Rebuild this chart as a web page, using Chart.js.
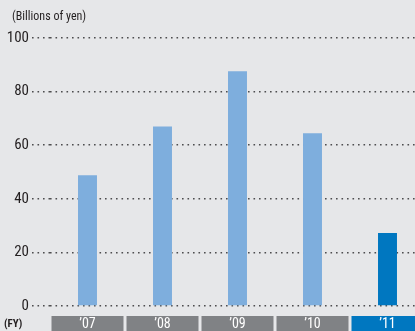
<!DOCTYPE html>
<html>
<head>
<meta charset="utf-8">
<script src="https://cdn.jsdelivr.net/npm/chart.js@4/dist/chart.umd.min.js"></script>
<style>
  html, body { margin: 0; padding: 0; background: #e6e7e9; overflow: hidden; }
  #wrap { position: relative; width: 425px; height: 331px; }
</style>
</head>
<body>
<div id="wrap"><canvas id="c" width="425" height="331"></canvas></div>
<script>
  // Werte (Milliarden Yen)
  const years = ['\u201907', '\u201908', '\u201909', '\u201910', '\u201911'];
  const values = [48.8, 67.0, 87.6, 64.5, 27.2];
  const barColors = ['#7eaedd', '#7eaedd', '#7eaedd', '#7eaedd', '#0077c0'];
  const boxColors = ['#808285', '#808285', '#808285', '#808285', '#0077c0'];
  const yTicks = [0, 20, 40, 60, 80, 100];
  const unitLabel = '(Billions of yen)';
  const fyLabel = '(FY)';

  const FONT = '"Liberation Sans Narrow", "Roboto Condensed", Roboto, sans-serif';

  // Jahreskästen unter der Achse + Einheit oben links
  const decor = {
    id: 'decor',
    afterDraw(chart) {
      const ctx = chart.ctx;
      const x = chart.scales.x;
      const area = chart.chartArea;
      const half = (x.getPixelForValue(1) - x.getPixelForValue(0)) / 2;
      ctx.save();
      years.forEach((y, i) => {
        const cx = x.getPixelForValue(i);
        ctx.fillStyle = boxColors[i];
        ctx.fillRect(cx - half + 1.5, area.bottom + 10, half * 2 - 3, 20);
        ctx.fillStyle = '#ffffff';
        ctx.font = '14px ' + FONT;
        ctx.textAlign = 'center';
        ctx.textBaseline = 'middle';
        ctx.fillText(y, cx, area.bottom + 18);
      });
      ctx.fillStyle = '#231f20';
      ctx.font = 'bold 11px ' + FONT;
      ctx.textAlign = 'left';
      ctx.fillText(fyLabel, 4, area.bottom + 18);
      ctx.font = '12px ' + FONT;
      ctx.textBaseline = 'middle';
      ctx.fillText(unitLabel, 12, 17);
      ctx.restore();
    },
  };

  new Chart(document.getElementById('c'), {
    type: 'bar',
    data: {
      labels: years,
      datasets: [{
        data: values,
        backgroundColor: barColors,
        borderWidth: 0,
        barPercentage: 0.253,
        categoryPercentage: 1,
      }],
    },
    options: {
      responsive: false,
      animation: false,
      layout: { padding: { top: 38, right: 0, bottom: 0, left: 0 } },
      plugins: { legend: { display: false }, tooltip: { enabled: false } },
      scales: {
        x: {
          grid: { display: false },
          border: { display: false },
          ticks: { display: false },
          afterFit: (s) => { s.height = 25; },
        },
        y: {
          min: 0,
          max: 100,
          afterBuildTicks: (s) => { s.ticks = yTicks.map((v) => ({ value: v })); },
          afterFit: (s) => { s.width = 50; },
          border: { display: false, dash: [1.6, 3.9] },
          grid: {
            color: '#4d4d4f',
            lineWidth: 1.6,
            drawTicks: true,
            tickLength: 18,
            tickColor: '#4d4d4f',
            tickWidth: 1.6,
            tickBorderDash: [1.6, 3.9],
          },
          ticks: {
            color: '#231f20',
            font: { family: FONT, size: 15 },
            padding: 3,
          },
        },
      },
    },
    plugins: [decor],
  });
</script>
</body>
</html>
